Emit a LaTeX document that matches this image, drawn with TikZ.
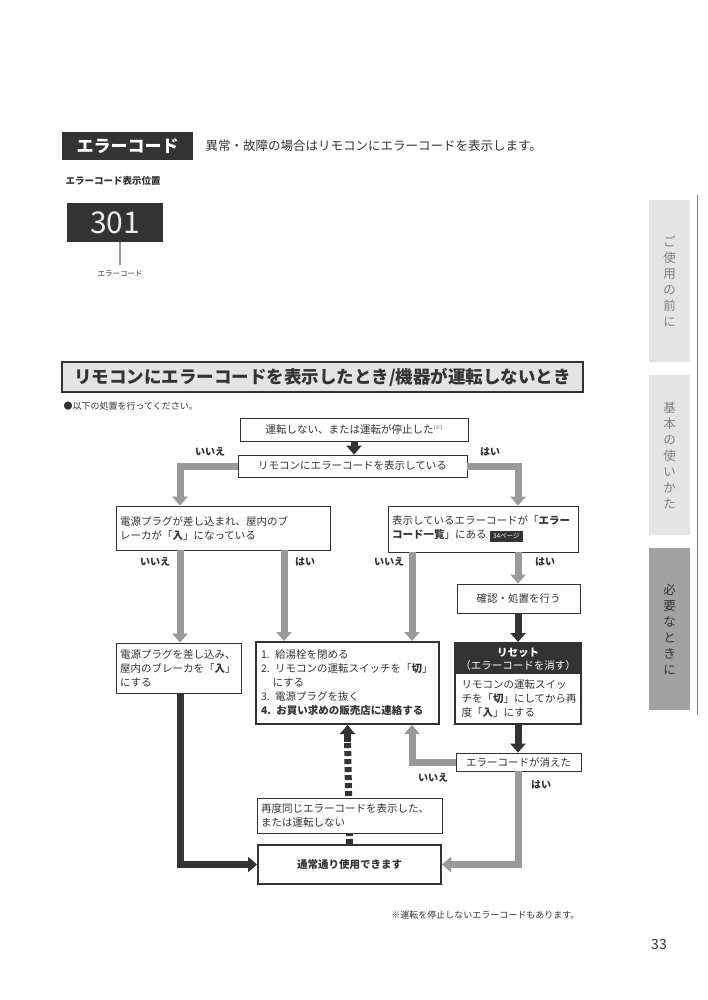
\documentclass[tikz,border=0pt]{standalone}
\usepackage{fontspec}
\setmainfont{Noto Sans CJK JP}
\usetikzlibrary{arrows.meta}
\definecolor{dk}{HTML}{333333}
\definecolor{gr}{HTML}{9A9A9A}
\definecolor{tab}{HTML}{E4E4E4}
\definecolor{tabd}{HTML}{A2A2A2}
\tikzset{
 box/.style={draw=dk,line width=0.8pt,fill=white,inner sep=3pt,font=\fontsize{10.5}{14}\selectfont,text=dk},
 tbox/.style={box,line width=2pt},
 garrow/.style={draw=gr,line width=7pt,-{Triangle[width=15pt,length=9pt]}},
 darrow/.style={draw=dk,line width=7pt,-{Triangle[width=15pt,length=9pt]}},
 lbl/.style={font=\bfseries\fontsize{10}{12}\selectfont,text=dk},
 tabtext/.style={font=\fontsize{12.5}{16}\selectfont,align=center,text=gray}
}
\begin{document}
\begin{tikzpicture}[x=1pt,y=-1pt]
\useasboundingbox (0,0) rectangle (707,1000);
\fill[white] (0,0) rectangle (707,1000);
% header
\node[fill=dk,text=white,font=\bfseries\fontsize{17}{20}\selectfont,minimum width=131,minimum height=28] (hd) at (127.5,146) {エラーコード};
\node[anchor=west,font=\fontsize{12.5}{15}\selectfont,text=dk] (hdt) at (202,146) {異常・故障の場合はリモコンにエラーコードを表示します。};
\node[anchor=west,font=\bfseries\fontsize{9.5}{12}\selectfont,text=dk] (pos) at (62,181) {エラーコード表示位置};
\node[fill=dk,text=white!85!gray,minimum width=96,minimum height=39,font=\fontsize{30}{30}\selectfont] (disp) at (115,222.5) {301};
\coordinate (dl) at (120,265);
\draw[gr,line width=1.2pt] (disp.south -| dl) -- (dl);
\node[font=\fontsize{7.5}{9}\selectfont,text=dk] (dlt) at (120,274) {エラーコード};
% section heading
\node[draw=dk,line width=1.2pt,fill=tab,minimum width=521,minimum height=30,font=\bfseries\fontsize{17.5}{20}\selectfont,text=dk] (sec) at (322.5,377) {リモコンにエラーコードを表示したとき/機器が運転しないとき};
\node[anchor=west,font=\fontsize{9}{11}\selectfont,text=dk] (note) at (60,406) {●以下の処置を行ってください。};
% flow boxes
\node[box,minimum width=228,minimum height=23] (top) at (354,429.5) {運転しない、または運転が停止した\textsuperscript{\tiny(※)}};
\node[box,minimum width=229,minimum height=22] (q2) at (352.5,466) {リモコンにエラーコードを表示している};
\node[box,minimum width=214,minimum height=44,align=left,text width=206,anchor=center] (q3) at (223,528) {電源プラグが差し込まれ、屋内のブ\\レーカが「\textbf{入}」になっている};
\node[box,minimum width=190,minimum height=46,align=left,text width=182] (q4) at (483,529) {表示しているエラーコードが「\textbf{エラー}\\\textbf{コード一覧}」にある \colorbox{dk}{\textcolor{white}{\fontsize{6.5}{7}\selectfont 34ページ}}};
\node[box,minimum width=123,minimum height=29] (conf) at (518.5,598.5) {確認・処置を行う};
\node[box,minimum width=125,minimum height=50,align=left,text width=117] (pw) at (178.5,668) {電源プラグを差し込み、\\屋内のブレーカを「\textbf{入}」\\にする};
\node[tbox,minimum width=183,minimum height=82,align=left,text width=173] (mid) at (347.5,683) {1. 給湯栓を閉める\\2. リモコンの運転スイッチを「\textbf{切}」\\\hspace*{1.1em}にする\\3. 電源プラグを抜く\\\textbf{4. お買い求めの販売店に連絡する}};
\node[tbox,minimum width=126,minimum height=81] (rs) at (518,683.5) {};
\fill[dk] (rs.north west) rectangle ([yshift=-32]rs.north east);
\node[font=\fontsize{10.5}{13}\selectfont,text=white,align=center] (rsh) at (518,659) {\textbf{リセット}\\（エラーコードを消す）};
\node[font=\fontsize{10.5}{14}\selectfont,text=dk,align=left,anchor=north west] (rsb) at (458,676) {リモコンの運転スイッ\\チを「\textbf{切}」にしてから再\\度「\textbf{入}」にする};
\node[box,minimum width=125,minimum height=18] (gone) at (518.5,762) {エラーコードが消えた};
\node[box,minimum width=185,minimum height=35,align=left,text width=177] (again) at (349.5,815.5) {再度同じエラーコードを表示した、\\または運転しない};
\node[tbox,minimum width=183,minimum height=39,font=\bfseries\fontsize{10.5}{14}\selectfont] (fin) at (349.5,864.5) {通常通り使用できます};
% connectors
\draw[darrow] (top.south) -- (top.south |- q2.north);
\coordinate (lx) at (180,0);
\coordinate (rx) at (518,0);
\coordinate (mx) at (284,0);
\coordinate (nx) at (412,0);
\draw[garrow] (q2.west) -| (q3.north -| lx);
\draw[garrow] (q2.east) -| (q4.north -| rx);
\draw[garrow] (q3.south -| lx) -- (pw.north -| lx);
\draw[garrow] (q3.south -| mx) -- (mid.north -| mx);
\draw[garrow] (q4.south -| nx) -- (mid.north -| nx);
\draw[garrow] (q4.south -| rx) -- (conf.north -| rx);
\draw[darrow] (conf.south -| rx) -- (rs.north -| rx);
\draw[darrow] (rs.south -| rx) -- (gone.north -| rx);
\draw[garrow] (gone.west) -| (mid.south -| nx);
\draw[garrow] (gone.south -| rx) |- (fin.east);
\draw[darrow] (pw.south -| lx) |- (fin.west);
\draw[draw=dk,line width=7pt,dash pattern=on 5pt off 3pt] (fin.north) -- ([yshift=-14]mid.south);
\draw[darrow] ([yshift=-17]mid.south) -- (mid.south);
\node[box,minimum width=185,minimum height=35,align=left,text width=177] at (again) {再度同じエラーコードを表示した、\\または運転しない};
% labels
\node[lbl] (l1) at (210,452) {いいえ};
\node[lbl] (l2) at (490,452) {はい};
\node[lbl] (l3) at (155,562) {いいえ};
\node[lbl] (l4) at (305,562) {はい};
\node[lbl] (l5) at (389,562) {いいえ};
\node[lbl] (l6) at (545,562) {はい};
\node[lbl] (l7) at (433,778) {いいえ};
\node[lbl] (l8) at (541,785) {はい};
\node[anchor=east,font=\fontsize{9}{11}\selectfont,text=dk] (foot) at (583,915) {※運転を停止しないエラーコードもあります。};
\node[font=\fontsize{14}{16}\selectfont,text=dk] (pg) at (659,944) {33};
% side tabs
\fill[tab] (649,200) rectangle (690,362);
\fill[tab] (649,375) rectangle (690,535);
\fill[tabd] (649,548) rectangle (690,710);
\draw[gray,line width=1pt] (697,195) -- (697,715);
\node[tabtext] (t1) at (669.5,281) {ご\\使\\用\\の\\前\\に};
\node[tabtext] (t2) at (669.5,455) {基\\本\\の\\使\\い\\か\\た};
\node[tabtext,text=dk] (t3) at (669.5,629) {必\\要\\な\\と\\き\\に};
\end{tikzpicture}
\end{document}
